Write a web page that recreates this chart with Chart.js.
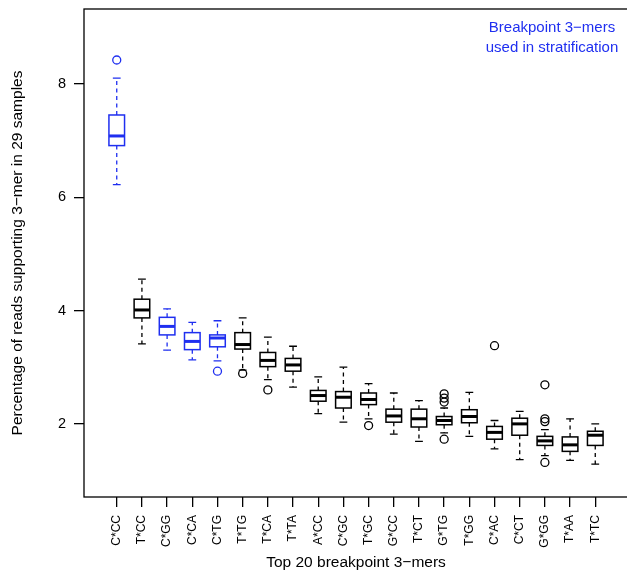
<!DOCTYPE html>
<html>
<head>
<meta charset="utf-8">
<script src="https://cdn.jsdelivr.net/npm/chart.js@4/dist/chart.umd.min.js"></script>
<style>
  html, body { margin: 0; padding: 0; background: #fff; overflow: hidden; }
  #wrap { position: relative; width: 640px; height: 572px; }
</style>
</head>
<body>
<div id="wrap"><canvas id="chart"></canvas></div>
<script>
const kmers = ['C*CC', 'T*CC', 'C*GG', 'C*CA', 'C*TG', 'T*TG', 'T*CA', 'T*TA', 'A*CC', 'C*GC',
               'T*GC', 'G*CC', 'T*CT', 'G*TG', 'T*GG', 'C*AC', 'C*CT', 'G*GG', 'T*AA', 'T*TC'];
const stratified = ['C*CC', 'C*GG', 'C*CA', 'C*TG'];

const whiskerLow  = [6.22, 3.41, 3.30, 3.13, 3.11, 2.95, 2.78, 2.65, 2.18, 2.03, 2.09, 1.82, 1.69, 1.84, 1.78, 1.56, 1.37, 1.44, 1.355, 1.29];
const q1          = [6.91, 3.87, 3.57, 3.31, 3.36, 3.32, 3.01, 2.93, 2.40, 2.28, 2.34, 2.03, 1.945, 1.985, 2.02, 1.73, 1.80, 1.62, 1.515, 1.62];
const median      = [7.08, 4.01, 3.72, 3.455, 3.515, 3.40, 3.12, 3.04, 2.50, 2.47, 2.43, 2.14, 2.09, 2.06, 2.13, 1.85, 2.00, 1.70, 1.63, 1.80];
const q3          = [7.45, 4.20, 3.88, 3.61, 3.57, 3.61, 3.26, 3.155, 2.59, 2.57, 2.545, 2.26, 2.26, 2.13, 2.25, 1.955, 2.10, 1.78, 1.77, 1.87];
const whiskerHigh = [8.10, 4.555, 4.03, 3.79, 3.82, 3.87, 3.53, 3.37, 2.83, 3.00, 2.71, 2.545, 2.41, 2.28, 2.555, 2.06, 2.22, 1.90, 2.09, 2.00];
const outliers = [[8.42], [], [], [], [2.93], [2.89], [2.60], [], [], [],
                  [1.97], [], [], [2.53, 2.455, 2.385, 1.73], [], [3.38], [], [2.69, 2.09, 2.04, 1.32], [], []];

const yTicks = [2, 4, 6, 8];

const BLUE = '#1f2ff0';
const FONT = '"Liberation Sans", Arial, Helvetica, sans-serif';
const colorOf = i => stratified.includes(kmers[i]) ? BLUE : '#000';

const outlierPoints = [];
const outlierColors = [];
outliers.forEach((vals, i) => {
    vals.forEach(v => {
        outlierPoints.push({ x: i + 1, y: v });
        outlierColors.push(colorOf(i));
    });
});

// boxes + whiskers drawn through the chart scales
const boxPlugin = {
    id: 'boxes',
    beforeDatasetsDraw(chart) {
        const ctx = chart.ctx;
        const xs = chart.scales.x;
        const ys = chart.scales.y;
        ctx.save();
        kmers.forEach((k, i) => {
            const x = xs.getPixelForValue(i + 1);
            const half = xs.getPixelForValue(i + 1 + 0.31) - x;
            const cap = half / 2;
            const yLo = ys.getPixelForValue(whiskerLow[i]);
            const yQ1 = ys.getPixelForValue(q1[i]);
            const yMed = ys.getPixelForValue(median[i]);
            const yQ3 = ys.getPixelForValue(q3[i]);
            const yHi = ys.getPixelForValue(whiskerHigh[i]);
            ctx.strokeStyle = colorOf(i);
            ctx.lineWidth = 1.3;

            ctx.setLineDash([4, 3.5]);
            ctx.beginPath();
            ctx.moveTo(x, yQ3); ctx.lineTo(x, yHi);
            ctx.moveTo(x, yQ1); ctx.lineTo(x, yLo);
            ctx.stroke();
            ctx.setLineDash([]);

            ctx.beginPath();
            ctx.moveTo(x - cap, yHi); ctx.lineTo(x + cap, yHi);
            ctx.moveTo(x - cap, yLo); ctx.lineTo(x + cap, yLo);
            ctx.stroke();

            ctx.lineWidth = 1.5;
            ctx.strokeRect(x - half, yQ3, half * 2, yQ1 - yQ3);

            ctx.lineWidth = 3;
            ctx.beginPath();
            ctx.moveTo(x - half, yMed); ctx.lineTo(x + half, yMed);
            ctx.stroke();
        });
        ctx.restore();
    },
    afterDraw(chart) {
        const ctx = chart.ctx;
        const a = chart.chartArea;
        ctx.save();
        ctx.strokeStyle = '#000';
        ctx.lineWidth = 1.3;
        ctx.strokeRect(a.left, a.top, a.right - a.left, a.bottom - a.top);

        ctx.fillStyle = BLUE;
        ctx.font = '15px ' + FONT;
        ctx.textAlign = 'center';
        ctx.textBaseline = 'middle';
        ctx.fillText('Breakpoint 3\u2212mers', 552, 28);
        ctx.fillText('used in stratification', 552, 48);
        ctx.restore();
    }
};

new Chart(document.getElementById('chart'), {
    type: 'scatter',
    data: {
        datasets: [{
            label: 'outliers',
            data: outlierPoints,
            pointStyle: 'circle',
            pointRadius: 4,
            pointHoverRadius: 4,
            pointBorderWidth: 1.3,
            pointBorderColor: outlierColors,
            pointBackgroundColor: 'rgba(0,0,0,0)'
        }]
    },
    options: {
        responsive: true,
        maintainAspectRatio: false,
        animation: false,
        layout: { padding: { left: 0, top: 9, right: 12, bottom: 0 } },
        plugins: {
            legend: { display: false },
            tooltip: { enabled: false }
        },
        scales: {
            x: {
                type: 'linear',
                min: -0.3,
                max: 21.3,
                afterBuildTicks: s => { s.ticks = kmers.map((_, i) => ({ value: i + 1 })); },
                afterFit: s => { s.height = 75; s.paddingLeft = 0; s.paddingRight = 0; },
                border: { display: false },
                grid: { drawOnChartArea: false, drawTicks: true, tickLength: 10, color: '#000', lineWidth: 1.3 },
                ticks: {
                    autoSkip: false,
                    minRotation: 90,
                    maxRotation: 90,
                    padding: 8,
                    color: '#000',
                    font: { family: FONT, size: 12 },
                    callback: v => kmers[Math.round(v) - 1]
                },
                title: {
                    display: true,
                    text: 'Top 20 breakpoint 3\u2212mers',
                    color: '#000',
                    font: { family: FONT, size: 15.5 },
                    padding: { top: 0, bottom: 0 }
                }
            },
            y: {
                type: 'linear',
                min: 0.71,
                max: 9.32,
                afterBuildTicks: s => { s.ticks = yTicks.map(v => ({ value: v })); },
                afterFit: s => { s.width = 84; s.paddingTop = 0; s.paddingBottom = 0; },
                border: { display: false },
                grid: { drawOnChartArea: false, drawTicks: true, tickLength: 10, color: '#000', lineWidth: 1.3 },
                ticks: {
                    padding: 8,
                    color: '#000',
                    font: { family: FONT, size: 14.5 }
                },
                title: {
                    display: true,
                    text: 'Percentage of reads supporting 3\u2212mer in 29 samples',
                    color: '#000',
                    font: { family: FONT, size: 15.5 },
                    padding: { top: 8, bottom: 0 }
                }
            }
        }
    },
    plugins: [boxPlugin]
});
</script>
</body>
</html>
